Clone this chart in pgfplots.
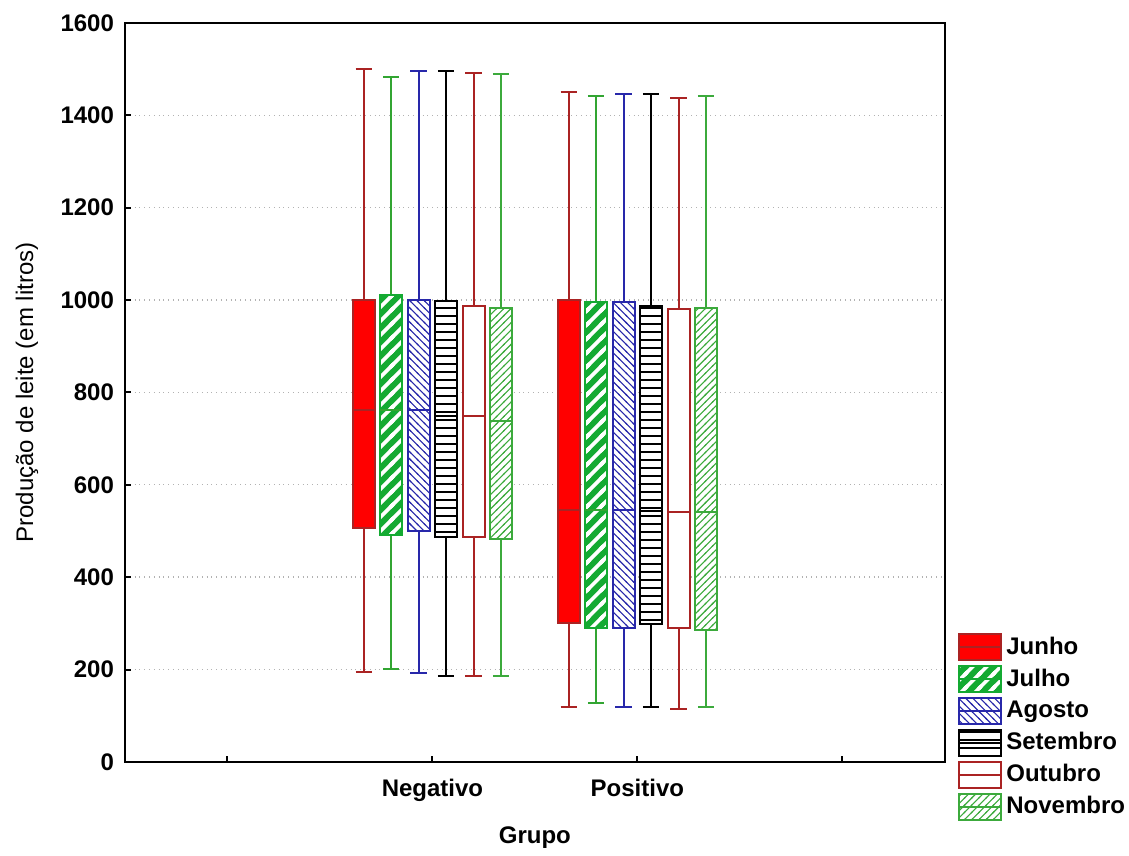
\documentclass[border=0pt]{standalone}
\usepackage{pgfplots}
\pgfplotsset{compat=1.18}
\usetikzlibrary{patterns}
\usepackage{fontspec}
\setmainfont{Liberation Sans}
\definecolor{cRed}{RGB}{255,0,0}
\definecolor{cDark}{RGB}{170,35,35}
\definecolor{cGreen}{RGB}{20,170,50}
\definecolor{cGreenW}{RGB}{50,165,50}
\definecolor{cGreen2}{RGB}{60,170,60}
\definecolor{cBlue}{RGB}{40,40,170}
% thick NE stripes, tile 7pt
\pgfdeclarepatternformonly{julstripe}{\pgfqpoint{-1pt}{-1pt}}{\pgfqpoint{8pt}{8pt}}{\pgfqpoint{7pt}{7pt}}{%
  \pgfsetlinewidth{1.8pt}%
  \pgfpathmoveto{\pgfqpoint{-1pt}{-1pt}}\pgfpathlineto{\pgfqpoint{8pt}{8pt}}%
  \pgfpathmoveto{\pgfqpoint{-1pt}{6pt}}\pgfpathlineto{\pgfqpoint{1pt}{8pt}}%
  \pgfpathmoveto{\pgfqpoint{6pt}{-1pt}}\pgfpathlineto{\pgfqpoint{8pt}{1pt}}%
  \pgfusepath{stroke}}
% thin NE lines, tile 3.6pt
\pgfdeclarepatternformonly{thinne}{\pgfqpoint{-0.5pt}{-0.5pt}}{\pgfqpoint{4.1pt}{4.1pt}}{\pgfqpoint{3.6pt}{3.6pt}}{%
  \pgfsetlinewidth{0.55pt}%
  \pgfpathmoveto{\pgfqpoint{-0.5pt}{-0.5pt}}\pgfpathlineto{\pgfqpoint{4.1pt}{4.1pt}}%
  \pgfusepath{stroke}}
% thin NW lines, tile 3.6pt
\pgfdeclarepatternformonly{thinnw}{\pgfqpoint{-0.5pt}{-0.5pt}}{\pgfqpoint{4.1pt}{4.1pt}}{\pgfqpoint{3.6pt}{3.6pt}}{%
  \pgfsetlinewidth{0.55pt}%
  \pgfpathmoveto{\pgfqpoint{-0.5pt}{4.1pt}}\pgfpathlineto{\pgfqpoint{4.1pt}{-0.5pt}}%
  \pgfusepath{stroke}}
% horizontal lines, tile 4pt
\pgfdeclarepatternformonly{horiz}{\pgfqpoint{-1pt}{-1pt}}{\pgfqpoint{5pt}{5pt}}{\pgfqpoint{4pt}{4pt}}{%
  \pgfsetlinewidth{1pt}%
  \pgfpathmoveto{\pgfqpoint{-1pt}{2pt}}\pgfpathlineto{\pgfqpoint{5pt}{2pt}}%
  \pgfusepath{stroke}}
\tikzset{
 bJun/.style={draw=cDark, fill=cRed, line width=1pt},
 bJul/.style={draw=cGreen, line width=1pt, preaction={fill=cGreen}, pattern=julstripe, pattern color=white},
 bAgo/.style={draw=cBlue, line width=1pt, preaction={fill=white}, pattern=thinnw, pattern color=cBlue},
 bSet/.style={draw=black, line width=1pt, preaction={fill=white}, pattern=horiz, pattern color=black},
 bOut/.style={draw=cDark, fill=white, line width=1pt},
 bNov/.style={draw=cGreen2, line width=1pt, preaction={fill=white}, pattern=thinne, pattern color=cGreen2},
}
% #1 box style, #2 color, #3 position, #4 lower whisker, #5 Q1, #6 median, #7 Q3, #8 upper whisker
\newcommand{\bx}[8]{%
\pgfmathsetmacro\bxL{#3-0.054}\pgfmathsetmacro\bxR{#3+0.054}%
\pgfmathsetmacro\bxCL{#3-0.04}\pgfmathsetmacro\bxCR{#3+0.04}%
\addplot[draw=#2, line width=1pt, mark=none, forget plot, unbounded coords=jump]
  coordinates {(\bxCL,#4) (\bxCR,#4) (#3,nan) (#3,#4) (#3,#8) (#3,nan) (\bxCL,#8) (\bxCR,#8)};
\addplot[#1, mark=none, forget plot] coordinates {(\bxL,#5) (\bxR,#5) (\bxR,#7) (\bxL,#7)} --cycle;
\addplot[draw=#2, line width=1pt, mark=none, forget plot] coordinates {(\bxL,#6) (\bxR,#6)};
}
\newcommand{\lgd}[3]{%
\addlegendimage{legend image code/.code={\draw[#1] (0pt,-6.5pt) rectangle (21pt,6.5pt);
     \draw[#2, line width=1pt] (0pt,0pt)--(21pt,0pt);}}
\addlegendentry{#3}}
\begin{document}
\begin{tikzpicture}
\begin{axis}[name=ax,
  scale only axis, width=410pt, height=369.5pt,
  xmin=-0.5, xmax=3.5, ymin=0, ymax=1600,
  xtick={0,1,2,3}, xticklabels={,Negativo,Positivo,},
  ytick={0,200,...,1600},
  xtick pos=bottom, ytick pos=left, tick align=inside,
  major tick length=3pt,
  axis line style={line width=1pt}, every tick/.style={black, line width=1pt},
  ymajorgrids, grid style={dotted, gray!60, line width=0.7pt},
  /pgf/number format/assume math mode=true,
  /pgf/number format/set thousands separator={},
  every tick label/.append style={font=\fontsize{12}{14}\selectfont\bfseries},
  xticklabel style={yshift=-5pt},
  yticklabel style={xshift=-2pt},
  xlabel={Grupo}, ylabel={Produção de leite (em litros)},
  xlabel style={font=\fontsize{12}{14}\selectfont\bfseries, at={(axis description cs:0.5,-0.103)}, anchor=center},
  ylabel style={font=\fontsize{12}{14}\selectfont, at={(axis description cs:-0.1195,0.5)}, anchor=center},
  legend style={draw=none, fill=none, at={(1.016,0.175)}, anchor=north west,
    font=\fontsize{12}{14}\selectfont\bfseries, row sep=1.8pt, inner sep=0pt},
  legend cell align=left,
]
\lgd{bJun}{cDark}{Junho}
\lgd{bJul}{cGreen}{Julho}
\lgd{bAgo}{cBlue}{Agosto}
\lgd{bSet}{black}{Setembro}
\lgd{bOut}{cDark}{Outubro}
\lgd{bNov}{cGreen2}{Novembro}
% Negativo
\bx{bJun}{cDark}{0.665}{195}{507}{762}{1000}{1500}
\bx{bJul}{cGreenW}{0.799}{201}{491}{762}{1011}{1483}
\bx{bAgo}{cBlue}{0.933}{193}{500}{762}{1000}{1496}
\bx{bSet}{black}{1.067}{186}{487}{750}{998}{1496}
\bx{bOut}{cDark}{1.201}{186}{487}{749}{987}{1492}
\bx{bNov}{cGreen2}{1.335}{186}{483}{738}{983}{1490}
% Positivo
\bx{bJun}{cDark}{1.665}{119}{301}{546}{1000}{1451}
\bx{bJul}{cGreenW}{1.799}{128}{290}{546}{996}{1442}
\bx{bAgo}{cBlue}{1.933}{119}{290}{546}{996}{1446}
\bx{bSet}{black}{2.067}{119}{299}{543}{987}{1446}
\bx{bOut}{cDark}{2.201}{115}{290}{541}{981}{1438}
\bx{bNov}{cGreen2}{2.335}{119}{286}{541}{983}{1442}
\end{axis}
\path ([xshift=-62.5pt,yshift=-45pt]ax.south west) rectangle ([xshift=92pt,yshift=11.5pt]ax.north east);
\end{tikzpicture}
\end{document}
